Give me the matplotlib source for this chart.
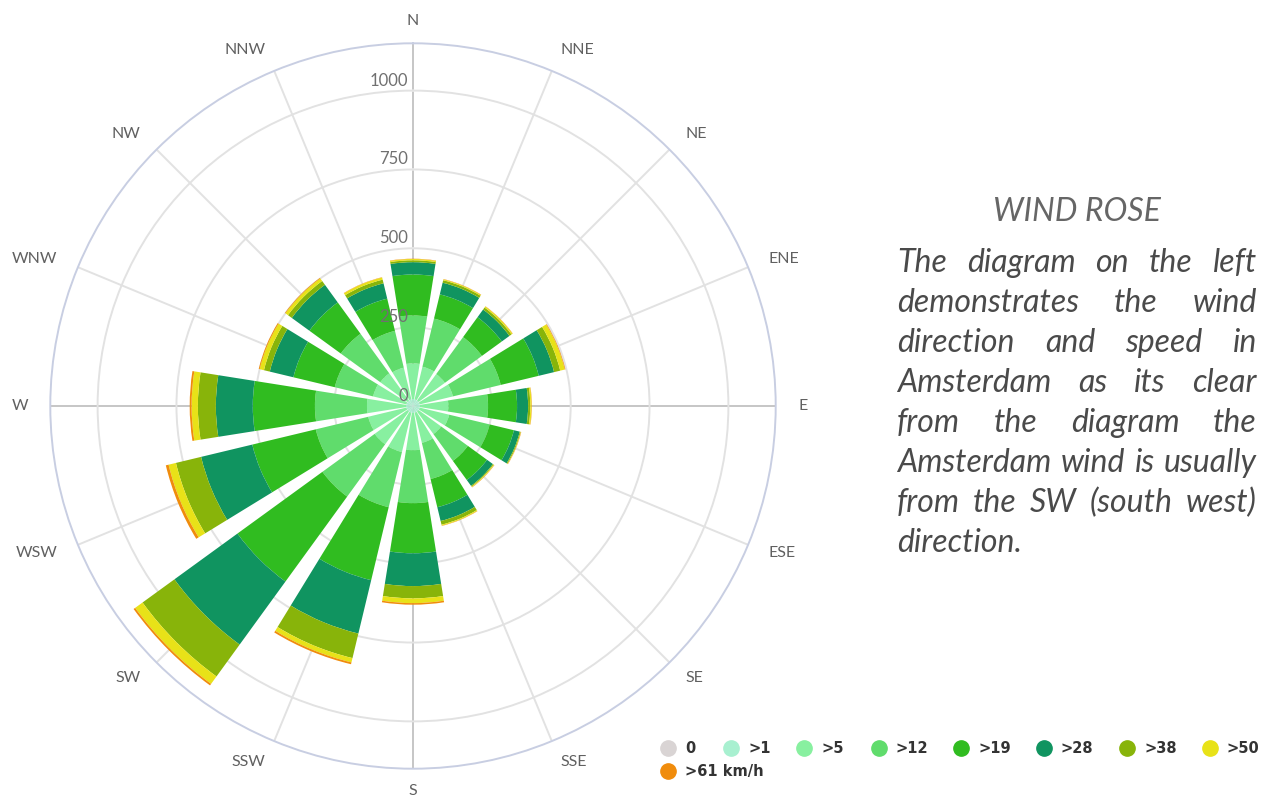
import numpy as np
import matplotlib
matplotlib.use('Agg')
import matplotlib.pyplot as plt
from matplotlib.lines import Line2D
from matplotlib.transforms import offset_copy

directions = ['N', 'NNE', 'NE', 'ENE', 'E', 'ESE', 'SE', 'SSE',
              'S', 'SSW', 'SW', 'WSW', 'W', 'WNW', 'NW', 'NNW']
speed_labels = ['0', '>1', '>5', '>12', '>19', '>28', '>38', '>50', '>61 km/h']

# frequency per speed class, one value per direction (N .. NNW)
speed_0 = [2, 2, 2, 2, 2, 2, 2, 2, 2, 2, 2, 2, 2, 2, 2, 2]
speed_1 = [20, 20, 20, 20, 20, 20, 20, 20, 20, 20, 20, 20, 20, 20, 20, 20]
speed_5 = [113, 106, 103, 108, 90, 96, 88, 98, 118, 128, 128, 124, 124, 108, 106, 103]
speed_12 = [152, 157, 145, 156, 126, 132, 105, 118, 168, 180, 205, 171, 165, 125, 155, 120]
speed_19 = [130, 79, 78, 124, 92, 79, 75, 92, 159, 238, 333, 207, 197, 135, 123, 105]
speed_28 = [39, 38, 30, 50, 35, 19, 23, 45, 104, 174, 247, 167, 117, 77, 69, 50]
speed_38 = [6, 8, 8, 20, 7, 3, 3, 12, 39, 80, 125, 82, 57, 19, 15, 12]
speed_50 = [4, 3, 4, 15, 4, 1, 2, 3, 15, 14, 29, 24, 20, 14, 10, 7]
speed_61 = [1, 1, 1, 2, 1, 1, 1, 1, 5, 6, 6, 9, 6, 3, 2, 1]

radial_ticks = [0, 250, 500, 750, 1000]

series = [speed_0, speed_1, speed_5, speed_12, speed_19,
          speed_28, speed_38, speed_50, speed_61]
colors = ['#d9d4d4', '#a8f0d0', '#88f0a0', '#60dc6c', '#30bc20',
          '#109460', '#88b40a', '#e8e218', '#f08c0c']

W, H = 1262, 805
fig = plt.figure(figsize=(W / 100, H / 100), dpi=100)
fig.patch.set_facecolor('white')

# polar area: centre (413, 406), outer radius ~363 px
R = 362.7
ax = fig.add_axes([(413 - R) / W, (H - 406 - R) / H, 2 * R / W, 2 * R / H],
                  projection='polar')
ax.set_theta_zero_location('N')
ax.set_theta_direction(-1)
rmax = 1150
ax.set_ylim(0, rmax)

theta = np.arange(16) * 2 * np.pi / 16
width = 0.8 * 2 * np.pi / 16

bottom = np.zeros(16)
for vals, col, lab in zip(series, colors, speed_labels):
    vals = np.array(vals, dtype=float)
    ax.bar(theta, vals, width=width, bottom=bottom, color=col,
           edgecolor='none', label=lab, zorder=3)
    bottom += vals

# grid
ax.set_xticks(theta)
ax.set_xticklabels([])
ax.set_yticks(radial_ticks[1:])
ax.set_yticklabels([])
ax.set_axisbelow(True)
ax.grid(True, color='#e2e2e2', lw=1.4)
for i, gl in enumerate(ax.xaxis.get_gridlines()):
    if i % 4 == 0:
        gl.set_color('#c6c6c6')
ax.spines['polar'].set_color('#c8cee2')
ax.spines['polar'].set_linewidth(1.4)
ax.tick_params(length=0)

# direction labels
px_per_unit = R / rmax
r_lab = 385 / px_per_unit
for th, d in zip(theta, directions):
    s = np.sin(th)
    if abs(s) < 0.01:
        ha = 'center'
    elif s > 0:
        ha = 'left'
    else:
        ha = 'right'
    ax.text(th, r_lab, d, ha=ha, va='center', fontsize=11.5,
            family='Lato', color='#606060', clip_on=False)

# radial value labels
tr = offset_copy(ax.transData, fig=fig, x=-5, y=10, units='dots')
for v in radial_ticks:
    ax.text(0, v, str(v), transform=tr, ha='right', va='center',
            fontsize=12, family='Lato', color='#707070', zorder=5)

# legend
row1 = [668, 731, 804, 878.5, 961, 1044, 1127, 1210]
leg_pos = [(x, 748) for x in row1] + [(668, 771)]
for (x, y), col, lab in zip(leg_pos, colors, speed_labels):
    fig.add_artist(Line2D([x / W], [1 - y / H], marker='o', ms=11,
                          color=col, mec=col, transform=fig.transFigure))
    fig.text((x + 17) / W, 1 - y / H, lab, ha='left', va='center',
             fontsize=10.5, fontweight='bold', family='DejaVu Sans', color='#333333')

# title and justified paragraph on the right
fig.text(1077 / W, 1 - 221 / H, 'WIND ROSE', ha='center', va='baseline',
         fontsize=23, family='Lato', style='italic', color='#666666')

lines = ['The diagram on the left',
         'demonstrates the wind',
         'direction and speed in',
         'Amsterdam as its clear',
         'from the diagram the',
         'Amsterdam wind is usually',
         'from the SW (south west)',
         'direction.']
x0, x1 = 897, 1257
renderer = fig.canvas.get_renderer()
for i, line in enumerate(lines):
    y = 1 - (272 + 40 * i) / H
    words = line.split()
    texts = [fig.text(0, y, w, ha='left', va='baseline', fontsize=23,
                      family='Lato', style='italic', color='#4a4a4a')
             for w in words]
    widths = [t.get_window_extent(renderer).width for t in texts]
    if i < len(lines) - 1 and len(words) > 1:
        gap = (x1 - x0 - sum(widths)) / (len(words) - 1)
    else:
        gap = 7
    x = x0
    for t, wd in zip(texts, widths):
        t.set_x(x / W)
        x += wd + gap

fig.savefig('out.png', dpi=100)
